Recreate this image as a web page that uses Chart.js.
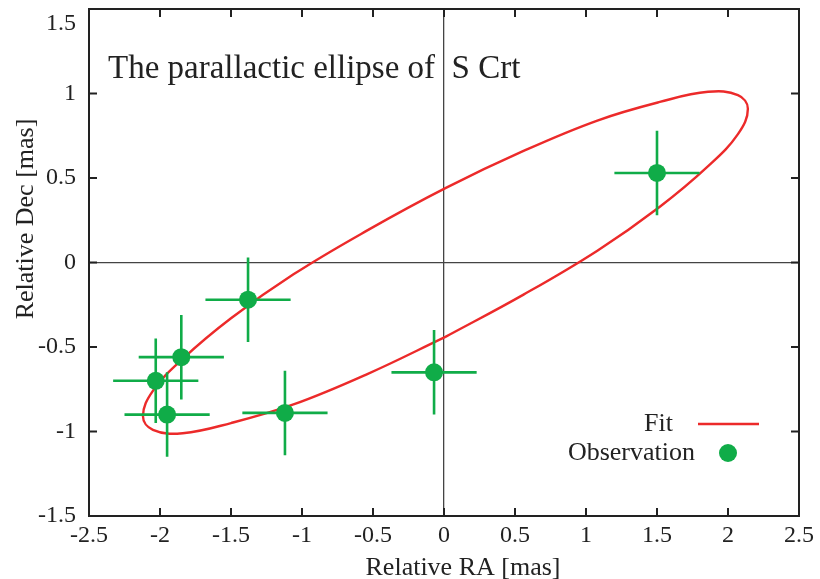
<!DOCTYPE html>
<html>
<head>
<meta charset="utf-8">
<script src="https://cdn.jsdelivr.net/npm/chart.js@4.4.1/dist/chart.umd.min.js"></script>
<style>
    html, body { margin: 0; padding: 0; background: #fff; }
</style>
</head>
<body>
<canvas id="ellipse-chart" width="820" height="579"></canvas>
<script>
// observations of S Crt [mas]
const obsRA  = [1.50, -1.38, -1.85, -2.03, -1.95, -1.12, -0.07];
const obsDec = [0.53, -0.22, -0.56, -0.70, -0.90, -0.89, -0.65];
const errRA  = [0.30, 0.30, 0.30, 0.30, 0.30, 0.30, 0.30];
const errDec = [0.25, 0.25, 0.25, 0.25, 0.25, 0.25, 0.25];

// fitted parallactic ellipse
const fitRA  = [0.01, -0.54, -1.06, -1.50, -1.84, -2.05, -2.12, -2.05, -1.84, -1.50, -1.06, -0.54,
                0.01, 0.56, 1.08, 1.52, 1.86, 2.07, 2.14, 2.07, 1.86, 1.52, 1.08, 0.56, 0.01];
const fitDec = [-0.44, -0.66, -0.84, -0.95, -1.01, -0.99, -0.91, -0.76, -0.57, -0.33, -0.07, 0.19,
                0.44, 0.66, 0.84, 0.95, 1.01, 0.99, 0.91, 0.76, 0.57, 0.33, 0.07, -0.19, -0.44];

const xTicks = [-2.5, -2, -1.5, -1, -0.5, 0, 0.5, 1, 1.5, 2, 2.5];
const yTicks = [-1.5, -1, -0.5, 0, 0.5, 1, 1.5];

const GREEN = '#10ac48';
const RED = '#ec2a2a';
const INK = '#222';
const SERIF = "'Liberation Serif', 'Times New Roman', serif";

Chart.defaults.font.family = SERIF;
Chart.defaults.color = INK;

let obsPoints = obsRA.map((v, i) => ({ x: v, y: obsDec[i] }));

// error bars as short line pieces, broken apart by null points
let errPieces = [];
obsRA.forEach((v, i) => {
    errPieces.push({ x: v - errRA[i], y: obsDec[i] }, { x: v + errRA[i], y: obsDec[i] }, { x: v, y: null });
    errPieces.push({ x: v, y: obsDec[i] - errDec[i] }, { x: v, y: obsDec[i] + errDec[i] }, { x: v, y: null });
});

let fitPoints = fitRA.map((v, i) => ({ x: v, y: fitDec[i] }));

// frame with inward ticks on all four sides
const framePlugin = {
    id: 'frame',
    afterDatasetsDraw(chart) {
        const { ctx, chartArea: a, scales: { x, y } } = chart;
        ctx.save();
        ctx.strokeStyle = INK;
        ctx.lineWidth = 2;
        ctx.strokeRect(a.left, a.top, a.right - a.left, a.bottom - a.top);
        ctx.beginPath();
        xTicks.forEach(v => {
            const px = x.getPixelForValue(v);
            if (px <= a.left + 1 || px >= a.right - 1) return;
            ctx.moveTo(px, a.bottom); ctx.lineTo(px, a.bottom - 8);
            ctx.moveTo(px, a.top); ctx.lineTo(px, a.top + 8);
        });
        yTicks.forEach(v => {
            const py = y.getPixelForValue(v);
            if (py <= a.top + 1 || py >= a.bottom - 1) return;
            ctx.moveTo(a.left, py); ctx.lineTo(a.left + 8, py);
            ctx.moveTo(a.right, py); ctx.lineTo(a.right - 8, py);
        });
        ctx.stroke();
        ctx.restore();
    }
};

// title inside the plot, axis titles and the key at lower right
const labelPlugin = {
    id: 'labels',
    afterDraw(chart) {
        const { ctx, chartArea: a } = chart;
        ctx.save();
        ctx.fillStyle = INK;
        ctx.font = '33px ' + SERIF;
        ctx.textBaseline = 'alphabetic';
        ctx.textAlign = 'left';
        ctx.fillText('The parallactic ellipse of  S Crt', a.left + 19, a.top + 69);

        ctx.font = '26px ' + SERIF;
        ctx.textAlign = 'center';
        ctx.fillText('Relative RA [mas]', a.left + 374, a.bottom + 59);
        ctx.save();
        ctx.translate(33, a.top + 210);
        ctx.rotate(-Math.PI / 2);
        ctx.fillText('Relative Dec [mas]', 0, 0);
        ctx.restore();

        ctx.textAlign = 'right';
        ctx.textBaseline = 'middle';
        ctx.fillText('Fit', a.right - 126, a.bottom - 92);
        ctx.fillText('Observation', a.right - 104, a.bottom - 63);

        ctx.strokeStyle = RED;
        ctx.lineWidth = 2.4;
        ctx.beginPath();
        ctx.moveTo(a.right - 101, a.bottom - 92);
        ctx.lineTo(a.right - 40, a.bottom - 92);
        ctx.stroke();

        ctx.fillStyle = GREEN;
        ctx.beginPath();
        ctx.arc(a.right - 71, a.bottom - 63, 9, 0, Math.PI * 2);
        ctx.fill();
        ctx.restore();
    }
};

const zeroLine = c => (c.tick && c.tick.value === 0) ? '#444' : 'rgba(0,0,0,0)';

let ctx = document.getElementById('ellipse-chart').getContext('2d');

let chart = new Chart(ctx, {
    type: 'scatter',
    data: {
        datasets: [
            {
                label: 'Observation',
                data: obsPoints,
                backgroundColor: GREEN,
                borderWidth: 0,
                pointRadius: 9
            },
            {
                label: 'errors',
                data: errPieces,
                showLine: true,
                spanGaps: false,
                borderColor: GREEN,
                borderWidth: 2.6,
                pointRadius: 0
            },
            {
                label: 'Fit',
                data: fitPoints,
                showLine: true,
                borderColor: RED,
                borderWidth: 2.4,
                tension: 0.4,
                pointRadius: 0
            }
        ]
    },
    options: {
        responsive: false,
        animation: false,
        layout: { padding: { top: 8, right: 21, left: 0, bottom: 0 } },
        plugins: {
            legend: { display: false },
            tooltip: { enabled: false }
        },
        scales: {
            x: {
                type: 'linear',
                min: -2.5,
                max: 2.5,
                afterBuildTicks: s => { s.ticks = xTicks.map(v => ({ value: v })); },
                afterFit: s => { s.height = 63; },
                border: { display: false },
                grid: { drawTicks: false, color: zeroLine, lineWidth: 1.3 },
                ticks: { padding: 5, font: { size: 24 }, callback: v => String(v) }
            },
            y: {
                type: 'linear',
                min: -1.5,
                max: 1.5,
                afterBuildTicks: s => { s.ticks = yTicks.map(v => ({ value: v })); },
                afterFit: s => { s.width = 89; s.paddingTop = 0; s.paddingBottom = 0; },
                border: { display: false },
                grid: { drawTicks: false, color: zeroLine, lineWidth: 1.3 },
                ticks: { padding: 13, font: { size: 24 }, callback: v => v === 1.5 ? ['', '1.5'] : String(v) }
            }
        }
    },
    plugins: [framePlugin, labelPlugin]
});
</script>
</body>
</html>
